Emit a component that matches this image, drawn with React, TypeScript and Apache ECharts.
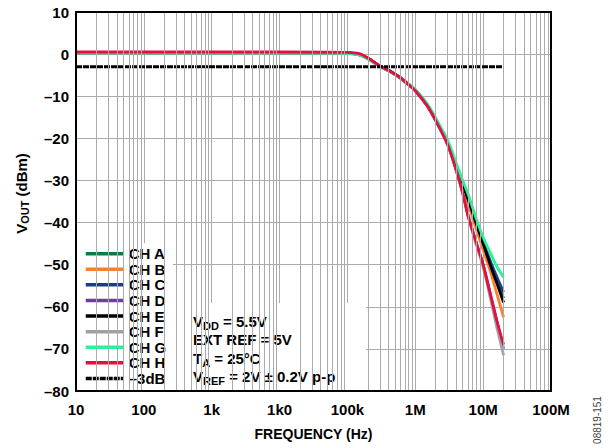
import { useEffect, useRef } from 'react';
import * as echarts from 'echarts';

const FONT = '"Liberation Sans", Arial, Helvetica, sans-serif';
const GRID_COLOR = '#ababab';

// Frequencies (Hz)
const freqs = [10, 100, 1e3, 1e4, 1e5, 1.5e5, 2e5, 3e5, 4.5e5, 6e5, 8e5, 1e6, 1.5e6, 2e6, 3e6, 4e6, 5e6, 6e6, 8e6, 1e7, 1.3e7, 1.6e7, 2e7];

// VOUT (dBm) per channel
const chA = [0.4, 0.4, 0.4, 0.4, 0.3, -0.1, -1.0, -2.8, -4.3, -5.6, -7.2, -8.6, -12.1, -15.6, -21, -26.5, -31, -34.5, -40.5, -45, -50, -54, -58];
const chB = [0.4, 0.4, 0.4, 0.4, 0.3, -0.1, -1.0, -2.8, -4.3, -5.6, -7.2, -8.6, -12.1, -15.6, -21.2, -27, -31.5, -35.5, -41.8, -46.5, -52, -57, -62.5];
const chC = [0.3, 0.3, 0.3, 0.3, 0.2, -0.2, -1.1, -2.9, -4.4, -5.7, -7.3, -8.6, -12.1, -15.5, -21, -26.3, -30.8, -34.2, -40, -44.5, -49.5, -53, -56.5];
const chD = [0.4, 0.4, 0.4, 0.4, 0.3, -0.1, -1.0, -2.8, -4.3, -5.6, -7.3, -8.7, -12.3, -15.8, -21.5, -27.5, -33, -38.2, -45, -50, -57.5, -63.5, -70];
const chE = [0.4, 0.4, 0.4, 0.4, 0.3, -0.1, -1.0, -2.8, -4.3, -5.6, -7.2, -8.5, -12, -15.5, -21, -26.5, -31, -34.5, -40.5, -45, -50.5, -54.5, -59];
const chF = [0.3, 0.3, 0.3, 0.3, 0.2, -0.2, -1.1, -2.9, -4.4, -5.7, -7.3, -8.7, -12.3, -15.8, -21.5, -27.5, -33, -38.5, -45.5, -50.5, -58.5, -65, -71.5];
const chG = [0.3, 0.3, 0.3, 0.3, 0.2, -0.2, -1.1, -2.9, -4.4, -5.6, -7.1, -8.4, -11.8, -15.2, -20.5, -25.8, -30, -33.2, -39.3, -43.5, -47.5, -50.5, -53];
const chH = [0.5, 0.5, 0.5, 0.5, 0.4, 0.1, -0.9, -2.8, -4.3, -5.6, -7.3, -8.7, -12.3, -15.8, -21.5, -27.5, -33, -38.5, -45, -50, -57.5, -63.5, -69];
const minus3dBFreqs = [10, 2e7];
const minus3dB = [-3, -3];

const channelNames = ['CH A', 'CH B', 'CH C', 'CH D', 'CH E', 'CH F', 'CH G', 'CH H'];
const channelData = [chA, chB, chC, chD, chE, chF, chG, chH];
const channelColors = ['#0b7a45', '#ff7f27', '#1a3c8a', '#6b3fa0', '#000000', '#a0a0a0', '#22f59a', '#e3103e'];
const refName = '\u20133dB';

const xTickLabels = ['10', '100', '1k', '1k0', '100k', '1M', '10M', '100M'];
const gridMultipliers = [2, 3, 4, 5, 6, 7, 8, 9];
const gridDecades = [10, 100, 1e3, 1e4, 1e5, 1e6, 1e7];

const minorFreqs: number[] = [];
gridDecades.forEach((d) => gridMultipliers.forEach((m) => minorFreqs.push(d * m)));

const fmtY = (v: number) => (v < 0 ? '\u2013' + Math.abs(v) : String(v));

const mainRich = { fontSize: 15, fontWeight: 'bold', lineHeight: 16, fontFamily: FONT, fill: '#000' };
const subRich = { fontSize: 11, fontWeight: 'bold', lineHeight: 10, padding: [8, 0, 0, 0], fontFamily: FONT, fill: '#000' };

function makeOption() {
  const series: any[] = channelNames.map((name, i) => ({
    name,
    type: 'line',
    xAxisIndex: 0,
    yAxisIndex: 0,
    data: freqs.map((f, j) => [f, channelData[i][j]]),
    symbol: 'none',
    showSymbol: false,
    smooth: 0.3,
    z: 2,
    lineStyle: { color: channelColors[i], width: 2.8 },
    itemStyle: { color: channelColors[i] },
  }));
  series.push({
    name: refName,
    type: 'line',
    data: minus3dBFreqs.map((f, j) => [f, minus3dB[j]]),
    symbol: 'none',
    showSymbol: false,
    z: 2,
    lineStyle: { color: '#000', width: 3, type: [6, 1] },
    itemStyle: { color: '#000' },
  });
  series.push({
    name: 'minor-grid',
    type: 'line',
    data: [],
    z: 1,
    silent: true,
    markLine: {
      silent: true,
      symbol: 'none',
      label: { show: false },
      lineStyle: { color: GRID_COLOR, width: 1, type: 'solid' },
      data: minorFreqs.map((f) => ({ xAxis: f })),
    },
  });

  const lineOnly = (extra: any) => ({
    ...extra,
    min: 0,
    max: 1,
    z: 6,
    axisLine: { show: true, onZero: false, lineStyle: { color: '#000', width: 2 } },
    axisTick: { show: false },
    axisLabel: { show: false },
    splitLine: { show: false },
  });

  return {
    animation: false,
    grid: { left: 76, top: 12, width: 475, height: 379 },
    legend: {
      data: [...channelNames, refName],
      orient: 'vertical',
      left: 84,
      top: 246,
      padding: 0,
      itemWidth: 38,
      itemHeight: 15,
      itemGap: 0.3,
      z: 4,
      itemStyle: { opacity: 0, borderWidth: 0 },
      lineStyle: { width: 3.5 },
      textStyle: { fontSize: 15, fontWeight: 'bold', lineHeight: 15.3, fontFamily: FONT, color: '#000' },
    },
    xAxis: [
      {
        type: 'log',
        logBase: 10,
        min: 10,
        max: 1e8,
        splitNumber: 7,
        z: 0,
        name: 'FREQUENCY (Hz)',
        nameLocation: 'middle',
        nameGap: 36,
        nameTextStyle: { fontSize: 14, fontWeight: 'bold', fontFamily: FONT, color: '#000' },
        axisLine: { show: false },
        axisTick: { show: false },
        axisLabel: {
          margin: 11,
          fontSize: 15,
          fontWeight: 'bold',
          fontFamily: FONT,
          color: '#000',
          formatter: (v: number) => xTickLabels[Math.round(Math.log10(v)) - 1] ?? '',
        },
        splitLine: { show: true, lineStyle: { color: GRID_COLOR, width: 1 } },
      },
      lineOnly({ type: 'value', position: 'top' }),
      lineOnly({ type: 'value', position: 'bottom' }),
    ],
    yAxis: [
      {
        type: 'value',
        min: -80,
        max: 10,
        interval: 10,
        z: 0,
        name: '{m|V}{s|OUT}{m| (dBm)}',
        nameLocation: 'middle',
        nameRotate: 90,
        nameGap: 47,
        nameTextStyle: {
          fontSize: 15,
          fontWeight: 'bold',
          fontFamily: FONT,
          color: '#000',
          padding: [0, 0, 0, 16],
          rich: {
            m: { fontSize: 15, fontWeight: 'bold', lineHeight: 16, fontFamily: FONT, color: '#000' },
            s: { fontSize: 11, fontWeight: 'bold', lineHeight: 10, padding: [7, 0, 0, 0], fontFamily: FONT, color: '#000' },
          },
        },
        axisLine: { show: false },
        axisTick: { show: false },
        axisLabel: { margin: 7, fontSize: 15, fontWeight: 'bold', fontFamily: FONT, color: '#000', formatter: fmtY },
        splitLine: { show: true, lineStyle: { color: GRID_COLOR, width: 1 } },
      },
      lineOnly({ type: 'value', position: 'right' }),
      lineOnly({ type: 'value', position: 'left' }),
    ],
    graphic: [
      { type: 'rect', z: 3, shape: { x: 77, y: 243, width: 96, height: 147 }, style: { fill: '#fff' } },
      { type: 'rect', z: 3, shape: { x: 172, y: 303, width: 194, height: 87 }, style: { fill: '#fff' } },
      { type: 'text', z: 5, left: 193, top: 312, style: { text: '{m|V}{s|DD}{m| = 5.5V}', rich: { m: mainRich, s: subRich } } },
      { type: 'text', z: 5, left: 193, top: 332, style: { text: '{m|EXT REF = 5V}', rich: { m: mainRich, s: subRich } } },
      { type: 'text', z: 5, left: 193, top: 349, style: { text: '{m|T}{s|A}{m| = 25\u00b0C}', rich: { m: mainRich, s: subRich } } },
      { type: 'text', z: 5, left: 193, top: 367, style: { text: '{m|V}{s|REF}{m| = 2V \u00b1 0.2V p-p}', rich: { m: mainRich, s: subRich } } },
      {
        type: 'text',
        z: 5,
        x: 597,
        y: 420,
        rotation: Math.PI / 2,
        style: { text: '08819-151', fontSize: 10, fontFamily: FONT, fill: '#444', align: 'center', verticalAlign: 'middle' },
      },
    ],
    series,
  };
}

export default function App() {
  const ref = useRef<HTMLDivElement>(null);
  useEffect(() => {
    const chart = echarts.init(ref.current!, null, { renderer: 'svg' });
    chart.setOption(makeOption() as any);
    return () => chart.dispose();
  }, []);
  return <div ref={ref} style={{ position: 'absolute', left: 0, top: 0, width: 608, height: 448, background: '#fff' }} />;
}
